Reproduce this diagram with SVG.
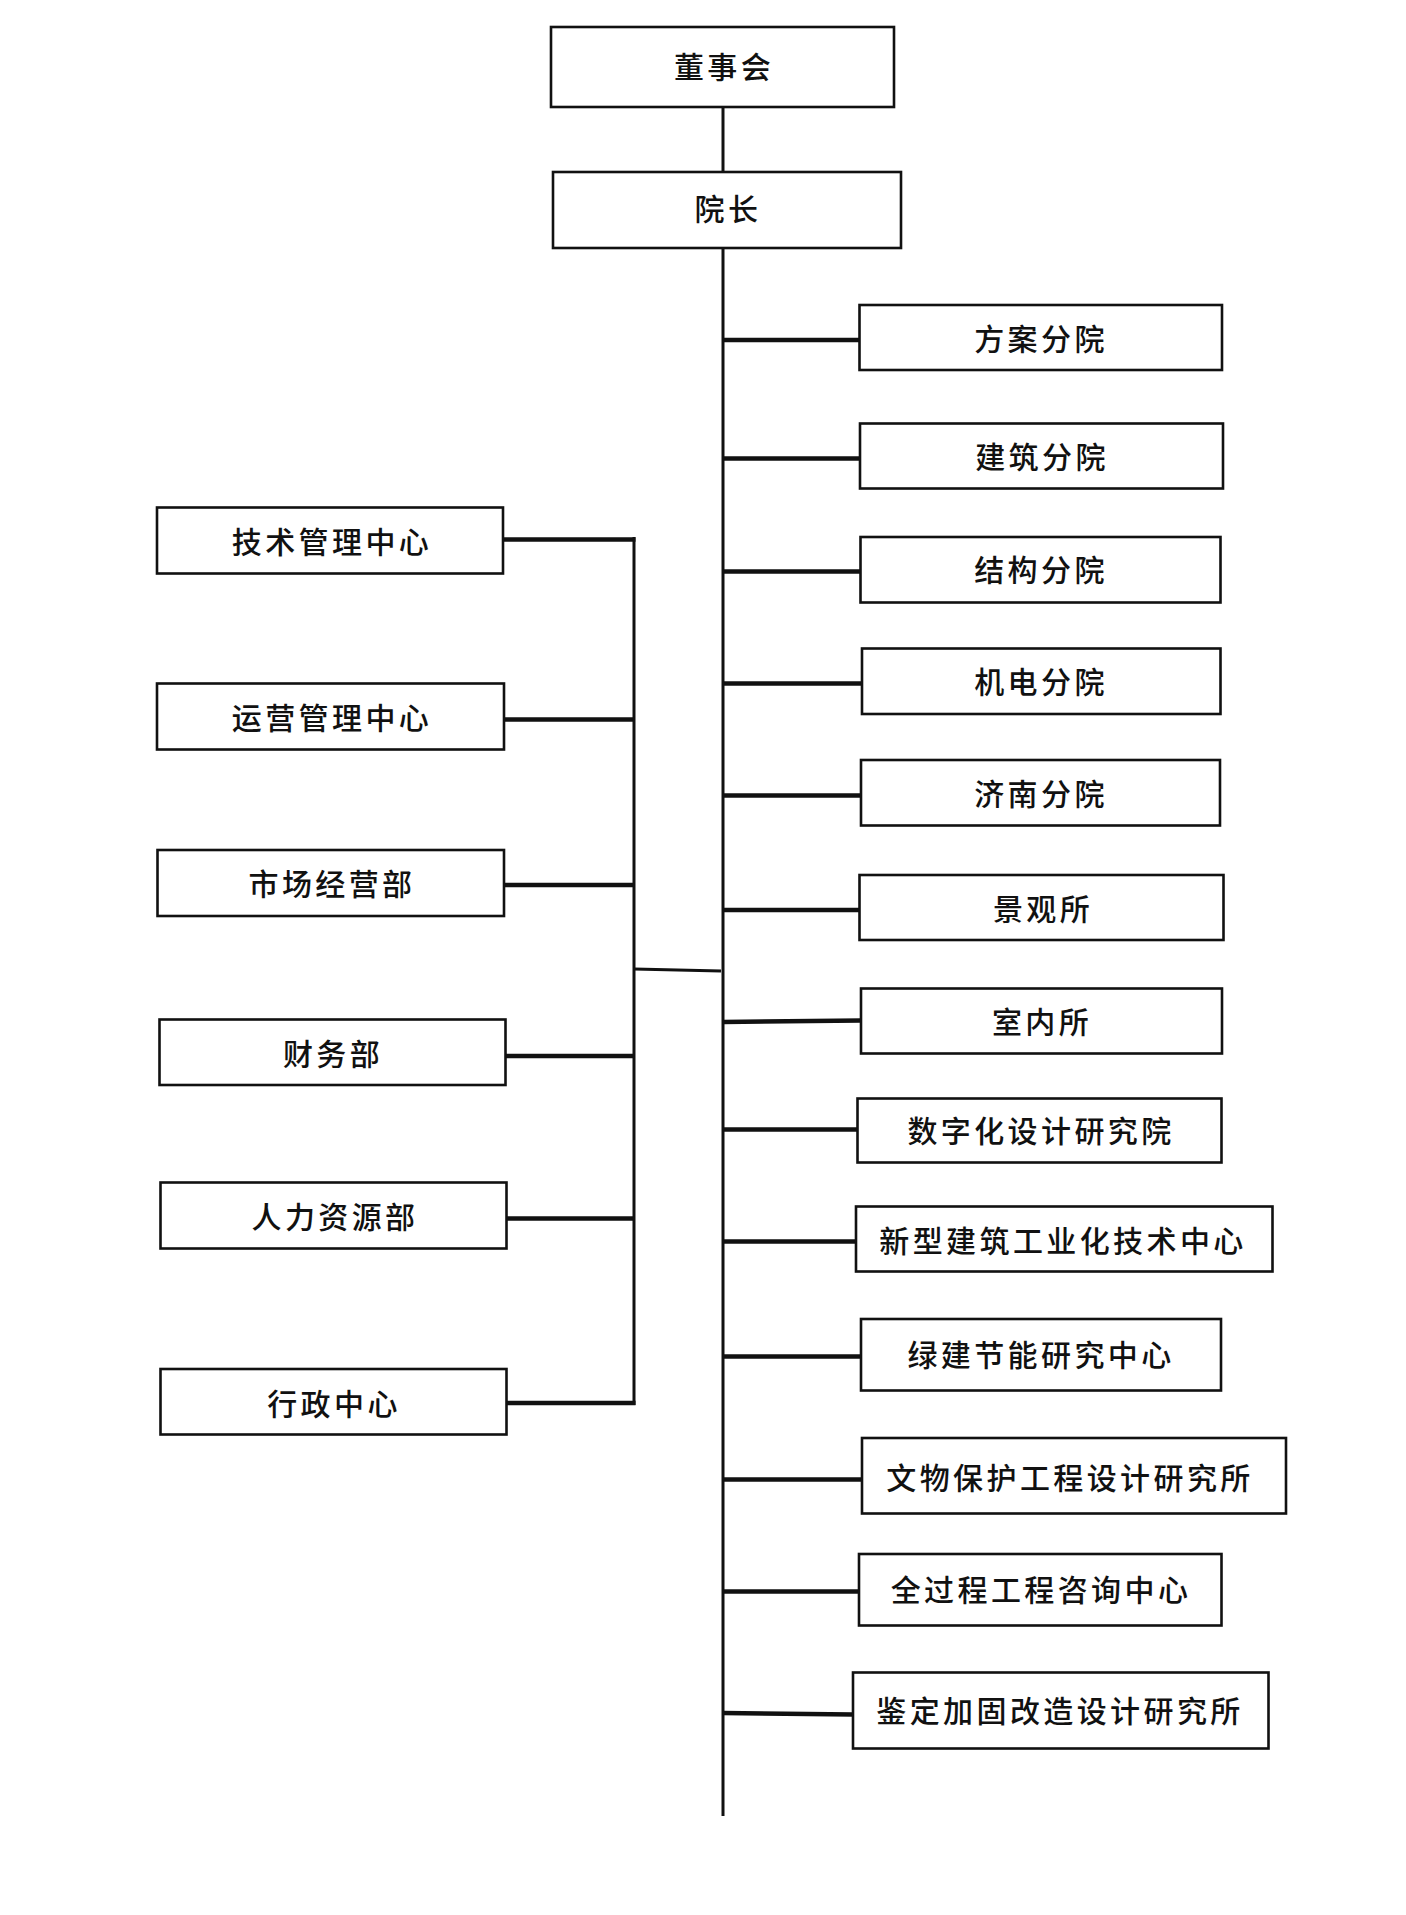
<svg xmlns="http://www.w3.org/2000/svg" width="1406" height="1915" viewBox="0 0 1406 1915">
<style>
.box{fill:#fff;stroke:#111;stroke-width:2.6}
.lbl{font-family:"Noto Sans CJK SC","Noto Sans CJK JP",sans-serif;font-size:30px;font-weight:500;fill:#111;text-anchor:middle;dominant-baseline:central;letter-spacing:3.4px}
.thin{stroke:#111;stroke-width:3;fill:none}
.thick{stroke:#111;stroke-width:4.5;fill:none}
</style>
<rect width="1406" height="1915" fill="#fff"/>
<g id="connectors">
<line class="thin" x1="723" y1="107" x2="723" y2="172"/>
<line class="thin" x1="723" y1="248" x2="723" y2="1816"/>
<line class="thin" x1="634" y1="537" x2="634" y2="1405"/>
<line class="thin" x1="634" y1="969" x2="721" y2="971"/>
<line class="thick" x1="503" y1="539.5" x2="635.5" y2="539.5"/>
<line class="thick" x1="504" y1="719.5" x2="634" y2="719.5"/>
<line class="thick" x1="504" y1="885" x2="634" y2="885"/>
<line class="thick" x1="506" y1="1056" x2="634" y2="1056"/>
<line class="thick" x1="507" y1="1218.5" x2="634" y2="1218.5"/>
<line class="thick" x1="507" y1="1403" x2="635.5" y2="1403"/>
<line class="thick" x1="723" y1="340" x2="859" y2="340"/>
<line class="thick" x1="723" y1="458.5" x2="860" y2="458.5"/>
<line class="thick" x1="723" y1="571.5" x2="860" y2="571.5"/>
<line class="thick" x1="723" y1="683.5" x2="862" y2="683.5"/>
<line class="thick" x1="723" y1="795.5" x2="861" y2="795.5"/>
<line class="thick" x1="723" y1="910" x2="859" y2="910"/>
<line class="thick" x1="723" y1="1022" x2="861" y2="1020.5"/>
<line class="thick" x1="723" y1="1129.5" x2="857" y2="1129.5"/>
<line class="thick" x1="723" y1="1241.5" x2="856" y2="1241.5"/>
<line class="thick" x1="723" y1="1356.5" x2="861" y2="1356.5"/>
<line class="thick" x1="723" y1="1479.5" x2="862" y2="1479.5"/>
<line class="thick" x1="723" y1="1591.5" x2="859" y2="1591.5"/>
<line class="thick" x1="723" y1="1713" x2="853" y2="1714.5"/>
</g>
<g id="n-board"><rect class="box" x="551" y="27" width="343" height="80"/><text class="lbl" x="724" y="65">董事会</text></g>
<g id="n-president"><rect class="box" x="553" y="172" width="348" height="76"/><text class="lbl" x="728" y="207">院长</text></g>
<g id="n-jishu"><rect class="box" x="157" y="507.5" width="346" height="66"/><text class="lbl" x="332" y="540">技术管理中心</text></g>
<g id="n-yunying"><rect class="box" x="157" y="683.5" width="347" height="66"/><text class="lbl" x="332" y="716">运营管理中心</text></g>
<g id="n-shichang"><rect class="box" x="157.5" y="850" width="346.5" height="66"/><text class="lbl" x="332" y="882">市场经营部</text></g>
<g id="n-caiwu"><rect class="box" x="159.5" y="1019.5" width="346" height="65.5"/><text class="lbl" x="333" y="1052">财务部</text></g>
<g id="n-renli"><rect class="box" x="160.5" y="1182.5" width="346" height="66"/><text class="lbl" x="335" y="1215">人力资源部</text></g>
<g id="n-xingzheng"><rect class="box" x="160.5" y="1369" width="346" height="65.5"/><text class="lbl" x="334" y="1402">行政中心</text></g>
<g id="n-fangan"><rect class="box" x="859.5" y="305" width="362.5" height="65"/><text class="lbl" x="1041" y="337">方案分院</text></g>
<g id="n-jianzhu"><rect class="box" x="860" y="423.5" width="363" height="65"/><text class="lbl" x="1042" y="455">建筑分院</text></g>
<g id="n-jiegou"><rect class="box" x="860.5" y="537" width="360" height="65.5"/><text class="lbl" x="1041" y="568">结构分院</text></g>
<g id="n-jidian"><rect class="box" x="862" y="648.5" width="358.5" height="65.5"/><text class="lbl" x="1041" y="680">机电分院</text></g>
<g id="n-jinan"><rect class="box" x="861" y="760" width="359" height="65.5"/><text class="lbl" x="1041" y="792">济南分院</text></g>
<g id="n-jingguan"><rect class="box" x="859.5" y="875" width="364" height="65"/><text class="lbl" x="1043" y="907">景观所</text></g>
<g id="n-shinei"><rect class="box" x="861" y="988.5" width="361" height="65"/><text class="lbl" x="1042" y="1020">室内所</text></g>
<g id="n-shuzihua"><rect class="box" x="857.5" y="1098.5" width="364" height="64"/><text class="lbl" x="1041" y="1129">数字化设计研究院</text></g>
<g id="n-xinxing"><rect class="box" x="856" y="1206.5" width="416.5" height="65"/><text class="lbl" x="1063" y="1239">新型建筑工业化技术中心</text></g>
<g id="n-lvjian"><rect class="box" x="861" y="1319" width="360" height="71.5"/><text class="lbl" x="1041" y="1353">绿建节能研究中心</text></g>
<g id="n-wenwu"><rect class="box" x="862" y="1438" width="424" height="75.5"/><text class="lbl" x="1070" y="1476">文物保护工程设计研究所</text></g>
<g id="n-quanguocheng"><rect class="box" x="859" y="1554" width="362.5" height="71.5"/><text class="lbl" x="1041" y="1588">全过程工程咨询中心</text></g>
<g id="n-jianding"><rect class="box" x="853" y="1672.5" width="415.5" height="76"/><text class="lbl" x="1060" y="1709">鉴定加固改造设计研究所</text></g>
</svg>
